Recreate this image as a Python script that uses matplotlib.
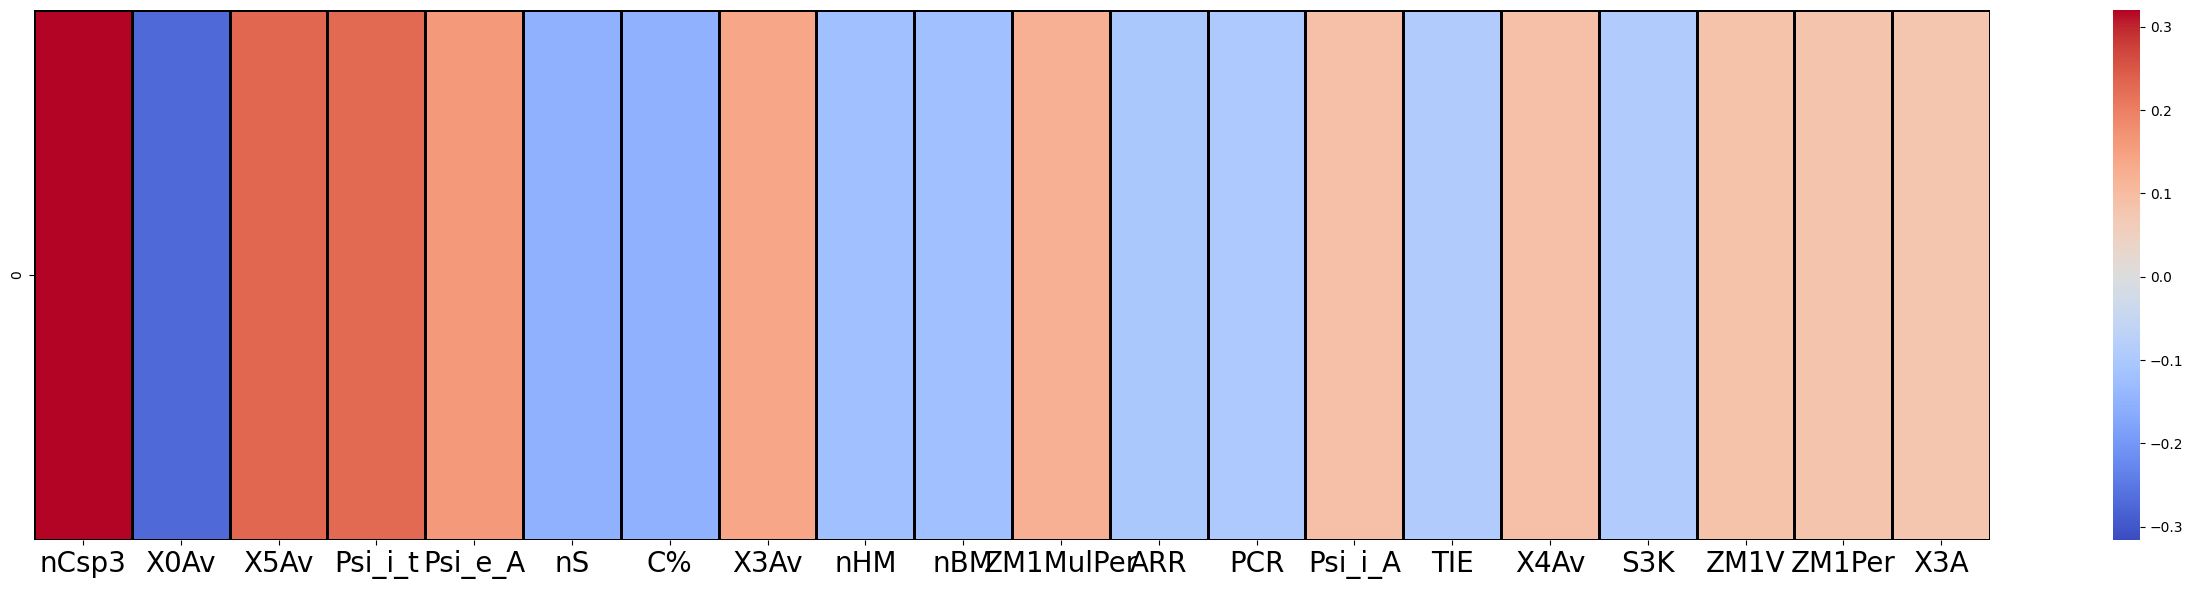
import matplotlib
matplotlib.use('Agg')
import matplotlib.pyplot as plt
import pandas as pd
import seaborn as sns

# correlation of each descriptor with the target, one row only
descriptors = ['nCsp3', 'X0Av', 'X5Av', 'Psi_i_t', 'Psi_e_A', 'nS', 'C%', 'X3Av', 'nHM', 'nBM',
               'ZM1MulPer', 'ARR', 'PCR', 'Psi_i_A', 'TIE', 'X4Av', 'S3K', 'ZM1V', 'ZM1Per', 'X3A']
correlations = [0.320, -0.272, 0.232, 0.230, 0.160, -0.152, -0.150, 0.140, -0.122, -0.120,
                0.122, -0.100, -0.098, 0.090, -0.092, 0.090, -0.090, 0.084, 0.082, 0.078]
# colour scale limits
cbar_min, cbar_max = -0.316, 0.320

corr_df = pd.DataFrame([correlations], columns=descriptors)

fig = plt.figure(figsize=(21.92, 5.9), dpi=100)
# heatmap spans x 34..1990, y 10..540 px; colorbar x 2113..2140
ax = fig.add_axes([34 / 2192, 50 / 590, 1956 / 2192, 530 / 590])
cax = fig.add_axes([2113 / 2192, 50 / 590, 27 / 2192, 530 / 590])

sns.heatmap(corr_df, cmap='coolwarm', vmin=cbar_min, vmax=cbar_max, linewidths=1,
            linecolor='black', ax=ax, cbar_ax=cax)
ax.set_xticklabels(descriptors, fontsize=20, rotation=0)

plt.savefig('out.png', dpi=100)
